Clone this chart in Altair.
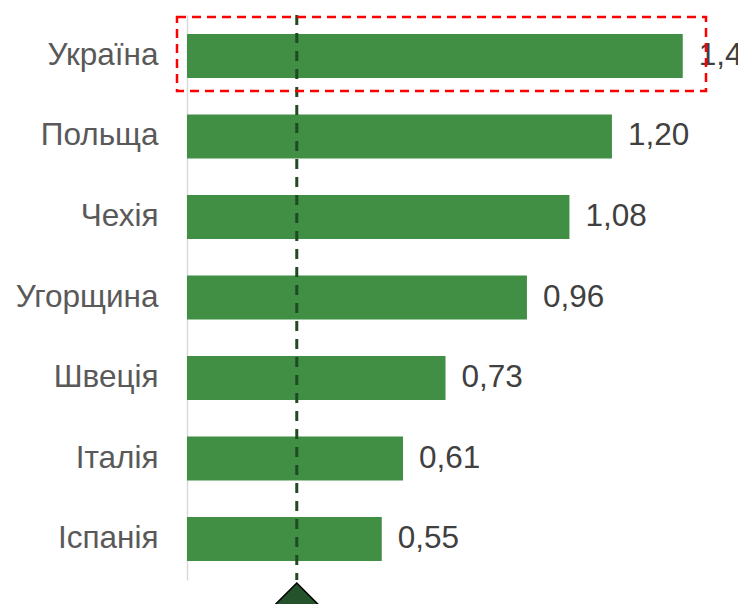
import altair as alt
import pandas as pd

countries = ["Україна", "Польща", "Чехія", "Угорщина", "Швеція", "Італія", "Іспанія"]
values = [1.40, 1.20, 1.08, 0.96, 0.73, 0.61, 0.55]
value_labels = [f"{v:.2f}".replace(".", ",") for v in values]
threshold = [0.31]
highlight = ["Україна"]

df = pd.DataFrame({"country": countries, "value": values, "label": value_labels})
tdf = pd.DataFrame({"t": threshold})
hdf = pd.DataFrame({"c": highlight})

FONT = "Liberation Sans"
x_scale = alt.Scale(domain=[0, 1.556], nice=False, zero=True)
y_scale = alt.Scale(domain=countries, paddingInner=0.4534, paddingOuter=0.236)

bars = alt.Chart(df).mark_bar(color="#418f45").encode(
    x=alt.X("value:Q", scale=x_scale, axis=None),
    y=alt.Y(
        "country:N",
        scale=y_scale,
        sort=countries,
        title=None,
        axis=alt.Axis(
            domain=True,
            domainColor="#d9d9d9",
            domainWidth=1.5,
            ticks=False,
            grid=False,
            labelFontSize=31.5,
            labelFont=FONT,
            labelColor="#595959",
            labelPadding=29,
            labelLimit=0,
        ),
    ),
)

text = alt.Chart(df).mark_text(
    align="left", baseline="middle", dx=16, fontSize=31.5, font=FONT, color="#404040"
).encode(
    x=alt.X("value:Q", scale=x_scale),
    y=alt.Y("country:N", scale=y_scale, sort=countries),
    text="label:N",
)

rule = alt.Chart(tdf).mark_rule(color="#1f4a22", strokeWidth=3, strokeDash=[10, 8]).encode(
    x=alt.X("t:Q", scale=x_scale)
)

box = alt.Chart(hdf).mark_rect(
    fill="transparent", stroke="#ff0000", strokeWidth=2.5, strokeDash=[9, 6]
).encode(
    x=alt.value(-10), x2=alt.value(519), y=alt.value(2), y2=alt.value(76)
)

tri = alt.Chart(tdf).mark_point(
    shape="M-1,0.5L0,-0.5L1,0.5Z",
    filled=True,
    fill="#24522a",
    stroke="black",
    strokeWidth=1.5,
    size=6400,
    opacity=1,
).encode(x=alt.X("t:Q", scale=x_scale), y=alt.value(588))

chart = (
    alt.layer(bars, rule, text, box, tri)
    .properties(
        width=551,
        height=565,
        autosize=alt.AutoSizeParams(type="none"),
        padding={"left": 179, "top": 7, "right": 0, "bottom": 24},
        background="white",
    )
    .configure_view(stroke=None)
)

chart.save("out.html", embed_options={"renderer": "svg", "actions": False})
